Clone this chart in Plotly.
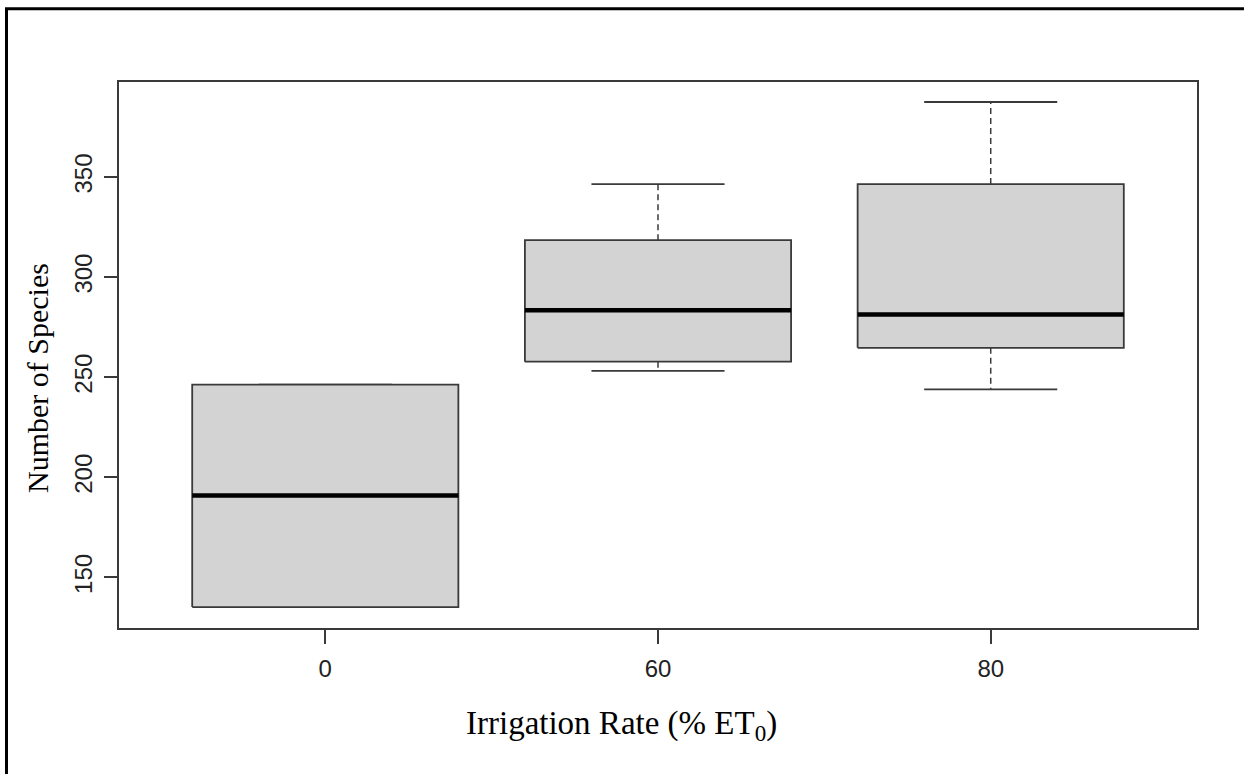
import plotly.graph_objects as go

# ---- data ----
categories = ["0", "60", "80"]
lower_whisker = [135.2, 253.2, 244.0]
q1 = [135.2, 257.8, 264.7]
median = [191.0, 283.5, 281.3]
q3 = [246.3, 318.5, 346.5]
upper_whisker = [246.3, 346.5, 387.5]
y_ticks = [150, 200, 250, 300, 350]

W, H = 1244, 774
ML, MR, MT, MB = 119, 47, 82, 146
PW, PH = W - ML - MR, H - MT - MB

LINE = "#3a3a3a"
FILL = "#D3D3D3"
box_half = 0.4
cap_half = 0.2

fig = go.Figure()
for i, cat in enumerate(categories):
    xc = i + 1
    # dashed whiskers
    fig.add_trace(go.Scatter(x=[xc, xc], y=[q3[i], upper_whisker[i]], mode="lines",
                             line=dict(color=LINE, width=1.5, dash="6px,4px"),
                             hoverinfo="skip", showlegend=False))
    fig.add_trace(go.Scatter(x=[xc, xc], y=[q1[i], lower_whisker[i]], mode="lines",
                             line=dict(color=LINE, width=1.5, dash="6px,4px"),
                             hoverinfo="skip", showlegend=False))
    # caps
    for v in (upper_whisker[i], lower_whisker[i]):
        fig.add_trace(go.Scatter(x=[xc - cap_half, xc + cap_half], y=[v, v], mode="lines",
                                 line=dict(color=LINE, width=1.8),
                                 hoverinfo="skip", showlegend=False))
    # box
    fig.add_trace(go.Scatter(
        x=[xc - box_half, xc + box_half, xc + box_half, xc - box_half, xc - box_half],
        y=[q1[i], q1[i], q3[i], q3[i], q1[i]],
        mode="lines", fill="toself", fillcolor=FILL,
        line=dict(color=LINE, width=1.8), hoverinfo="skip", showlegend=False))
    # median
    fig.add_trace(go.Scatter(x=[xc - box_half, xc + box_half], y=[median[i], median[i]],
                             mode="lines", line=dict(color="black", width=4.5),
                             hoverinfo="skip", showlegend=False))

def px_to_paper_x(px):
    return (px - ML) / PW

def px_to_paper_y(py):
    return (H - MB - py) / PH

TICKFONT = dict(family="Arial", size=24, color="#222222")

fig.update_layout(
    width=W, height=H,
    margin=dict(l=ML, r=MR, t=MT, b=MB, pad=0),
    paper_bgcolor="white", plot_bgcolor="white",
    showlegend=False,
    font=dict(family="Arial", size=24, color="#222222"),
)
fig.update_xaxes(range=[0.38, 3.62], tickmode="array", tickvals=[1, 2, 3], ticktext=categories,
                 showgrid=False, zeroline=False, showline=True, mirror=True,
                 linecolor=LINE, linewidth=1.8, ticks="outside", ticklen=14,
                 tickcolor=LINE, tickwidth=1.5, tickfont=TICKFONT, ticklabelstandoff=4)
fig.update_yaxes(range=[124.75, 397.5], tickmode="array", tickvals=y_ticks,
                 ticktext=[str(v) for v in y_ticks],
                 showgrid=False, zeroline=False, showline=True, mirror=True,
                 linecolor=LINE, linewidth=1.8, ticks="outside", ticklen=13,
                 tickcolor=LINE, tickwidth=1.5, tickangle=-90, tickfont=TICKFONT,
                 ticklabelstandoff=3)
fig.add_shape(type="rect", xref="paper", yref="paper",
              x0=px_to_paper_x(6.5), x1=px_to_paper_x(1262),
              y0=px_to_paper_y(790), y1=px_to_paper_y(8.7),
              line=dict(color="black", width=3), fillcolor="rgba(0,0,0,0)", layer="above")
fig.add_annotation(text="Number of Species", xref="paper", yref="paper",
                   x=px_to_paper_x(37), y=px_to_paper_y(378), xanchor="center", yanchor="middle",
                   textangle=-90, showarrow=False,
                   font=dict(family="Liberation Serif, Times New Roman", size=30, color="black"))
fig.add_annotation(text="Irrigation Rate (% ET<sub>0</sub>)", xref="paper", yref="paper",
                   x=px_to_paper_x(621), y=px_to_paper_y(725), xanchor="center", yanchor="middle",
                   showarrow=False,
                   font=dict(family="Liberation Serif, Times New Roman", size=33, color="black"))

fig.write_html("out.html")
